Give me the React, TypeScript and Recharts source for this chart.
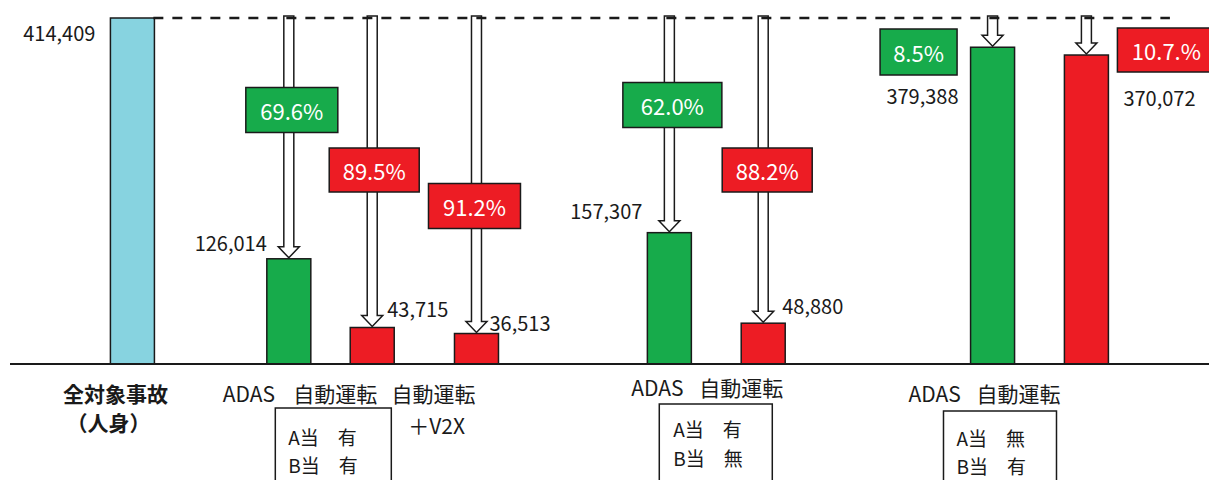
import React from 'react';
import { BarChart, Bar, XAxis, YAxis, ReferenceLine } from 'recharts';

// ---- data ----
const categories = ['全対象事故', 'ADAS', '自動運転', '自動運転', 'ADAS', '自動運転', 'ADAS', '自動運転'];
const categoryNotes = ['（人身）', '', '', '＋V2X', '', '', '', ''];
const accidents = [414409, 126014, 43715, 36513, 157307, 48880, 379388, 370072];
const reductionRates = ['', '69.6%', '89.5%', '91.2%', '62.0%', '88.2%', '8.5%', '10.7.%'];
const conditionA = ['A当　有', 'A当　有', 'A当　無'];
const conditionB = ['B当　有', 'B当　無', 'B当　有'];

// ---- layout ----
const SLOTS = 230;
const barSlots = [23, 53, 69, 89, 126, 144, 188, 206];
const dashStartSlot = 27;
const dashEndSlot = 222;

const FONT = '"Noto Sans CJK JP", "Noto Sans", sans-serif';
const BLUE = '#87D3E0';
const GREEN = '#17AB4B';
const RED = '#ED1C24';
const INK = '#1a1a1a';

// value label: which bar edge, offset from that edge, offset from bar top
const valueLabelPos = [
  { side: 'left', dx: -15, dy: 14 },
  { side: 'left', dx: 0, dy: -16 },
  { side: 'right', dx: -7, dy: -19 },
  { side: 'right', dx: -9, dy: -11 },
  { side: 'left', dx: -5, dy: -22 },
  { side: 'right', dx: -3, dy: -18 },
  { side: 'left', dx: -12, dy: 48 },
  { side: 'right', dx: 15, dy: 42 },
];

// reduction-rate box: offset from bar centre, centre y, size
const rateBoxPos = [
  null,
  { dx: 3, cy: 110, w: 92, h: 45 },
  { dx: 2, cy: 170, w: 90, h: 44 },
  { dx: -2, cy: 206, w: 92, h: 45 },
  { dx: 3, cy: 105, w: 99, h: 45 },
  { dx: 4, cy: 170, w: 90, h: 44 },
  { dx: -74, cy: 52, w: 77, h: 46 },
  { dx: 80, cy: 50, w: 98, h: 44 },
];

// category labels under the axis, offsets from bar centre / axis line
const tickLabelPos = [
  { dx: -17, dy: 29, noteDx: -24, noteDy: 58 },
  { dx: -40, dy: 29 },
  { dx: -37, dy: 29 },
  { dx: -43, dy: 29, noteDx: -40, noteDy: 61 },
  { dx: -12, dy: 23 },
  { dx: -22, dy: 23 },
  { dx: -58, dy: 29 },
  { dx: -68, dy: 29 },
];

const conditionBoxPos = [
  { bar: 2, left: -97, right: 19, top: 44, textDx: -84, line1: 72, line2: 100 },
  { bar: 5, left: -104, right: 9, top: 40, textDx: -90, line1: 64, line2: 93 },
  { bar: 7, left: -143, right: -30, top: 47, textDx: -130, line1: 73, line2: 101 },
];

const chartData = Array.from({ length: SLOTS }, (_, i) => {
  const b = barSlots.indexOf(i);
  return b < 0 ? { slot: String(i), value: null } : { slot: String(i), bar: b, value: accidents[b] };
});

const barColor = (i: number) => (i === 0 ? BLUE : categories[i] === 'ADAS' ? GREEN : RED);

const AccidentBar = (props: any) => {
  const { x, y, width, height, payload } = props;
  if (payload == null || payload.bar == null) return null;
  const i: number = payload.bar;
  const cx = x + width / 2;
  const base = y + height;
  const top = base - (height * accidents[0]) / accidents[i];
  const lp = valueLabelPos[i];
  const box = rateBoxPos[i];
  const lx = lp.side === 'left' ? cx - 22 + lp.dx : cx + 22 + lp.dx;
  return (
    <g>
      {i > 0 && (
        <polygon
          points={`${cx - 5},${top - 2} ${cx + 5},${top - 2} ${cx + 5},${y - 12} ${cx + 10.5},${y - 12} ${cx},${y - 1} ${cx - 10.5},${y - 12} ${cx - 5},${y - 12}`}
          fill="#fff"
          stroke={INK}
          strokeWidth={1.5}
        />
      )}
      <rect x={cx - 22} y={y} width={44} height={height} fill={barColor(i)} stroke={INK} strokeWidth={1.5} />
      <text
        x={lx}
        y={y + lp.dy}
        textAnchor={lp.side === 'left' ? 'end' : 'start'}
        dominantBaseline="central"
        fontFamily={FONT}
        fontSize={20}
        fill={INK}
      >
        {accidents[i].toLocaleString('en-US')}
      </text>
      {box && (
        <g>
          <rect
            x={cx + box.dx - box.w / 2}
            y={box.cy - box.h / 2}
            width={box.w}
            height={box.h}
            fill={barColor(i)}
            stroke={INK}
            strokeWidth={1.5}
          />
          <text
            x={cx + box.dx}
            y={box.cy}
            textAnchor="middle"
            dominantBaseline="central"
            fontFamily={FONT}
            fontSize={22}
            fill="#fff"
          >
            {reductionRates[i]}
          </text>
        </g>
      )}
    </g>
  );
};

const CategoryTick = (props: any) => {
  const { x, y, payload } = props;
  const i = barSlots.indexOf(Number(payload.value));
  if (i < 0) return <g />;
  const p = tickLabelPos[i];
  const cond = conditionBoxPos.findIndex((c) => c.bar === i);
  const c = conditionBoxPos[cond];
  return (
    <g fontFamily={FONT} fill={INK}>
      <text x={x + p.dx} y={y + p.dy} textAnchor="middle" dominantBaseline="central" fontSize={21} fontWeight={i === 0 ? 700 : 400}>
        {categories[i]}
      </text>
      {categoryNotes[i] && (
        <text x={x + (p.noteDx ?? 0)} y={y + (p.noteDy ?? 0)} textAnchor="middle" dominantBaseline="central" fontSize={21} fontWeight={i === 0 ? 700 : 400}>
          {categoryNotes[i]}
        </text>
      )}
      {c && (
        <g>
          <rect x={x + c.left} y={y + c.top} width={c.right - c.left} height={100} fill="#fff" stroke={INK} strokeWidth={1.5} />
          <text x={x + c.textDx} y={y + c.line1} dominantBaseline="central" fontSize={19}>
            {conditionA[cond]}
          </text>
          <text x={x + c.textDx} y={y + c.line2} dominantBaseline="central" fontSize={19}>
            {conditionB[cond]}
          </text>
        </g>
      )}
    </g>
  );
};

export default function App() {
  return (
    <div style={{ width: 1209, height: 480, background: '#fff' }}>
      <style>{'body{margin:0}'}</style>
      <BarChart width={1209} height={480} data={chartData} margin={{ top: 18, right: 0, bottom: 0, left: 10 }}>
        <YAxis hide domain={[0, accidents[0]]} />
        <XAxis
          dataKey="slot"
          height={116}
          interval={0}
          tickLine={false}
          tickSize={0}
          tickMargin={0}
          axisLine={{ stroke: INK, strokeWidth: 2 }}
          tick={<CategoryTick />}
        />
        <Bar dataKey="value" shape={<AccidentBar />} isAnimationActive={false} />
        <ReferenceLine
          segment={[
            { x: String(dashStartSlot), y: accidents[0] },
            { x: String(dashEndSlot), y: accidents[0] },
          ]}
          stroke={INK}
          strokeWidth={2.5}
          strokeDasharray="10 9"
        />
      </BarChart>
    </div>
  );
}
